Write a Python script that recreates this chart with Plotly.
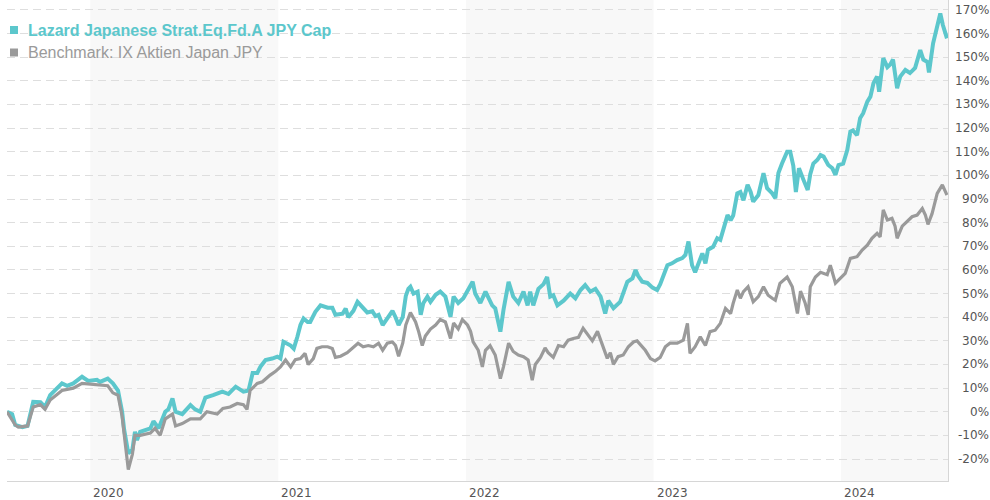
import pandas as pd
import plotly.graph_objects as go

# ---------------- data ----------------
fund_name = "Lazard Japanese Strat.Eq.Fd.A JPY Cap"
bench_name = "Benchmark: IX Aktien Japan JPY"

fund_dates = [
    "2019-07-23", "2019-08-02", "2019-08-08", "2019-08-14", "2019-08-22", "2019-09-01", "2019-09-02",
    "2019-09-12", "2019-09-26", "2019-10-05", "2019-10-15", "2019-11-07", "2019-11-17", "2019-11-29",
    "2019-12-16", "2019-12-28", "2020-01-14", "2020-01-20", "2020-02-04", "2020-02-14", "2020-02-24",
    "2020-03-03", "2020-03-07", "2020-03-15", "2020-03-23", "2020-03-28", "2020-04-01", "2020-04-07",
    "2020-04-27", "2020-05-03", "2020-05-13", "2020-05-26", "2020-06-01", "2020-06-09", "2020-06-15",
    "2020-06-28", "2020-07-14", "2020-07-23", "2020-08-02", "2020-08-12", "2020-08-27", "2020-09-14",
    "2020-09-26", "2020-10-10", "2020-10-25", "2020-11-04", "2020-11-12", "2020-11-21", "2020-11-27",
    "2020-12-07", "2020-12-20", "2020-12-30", "2021-01-05", "2021-01-11", "2021-01-25", "2021-01-31",
    "2021-02-07", "2021-02-13", "2021-02-19", "2021-02-27", "2021-03-04", "2021-03-14", "2021-03-24",
    "2021-04-07", "2021-04-16", "2021-04-22", "2021-05-06", "2021-05-12", "2021-05-17", "2021-05-27",
    "2021-06-04", "2021-06-14", "2021-06-23", "2021-07-03", "2021-07-09", "2021-07-15", "2021-07-23",
    "2021-08-01", "2021-08-11", "2021-08-17", "2021-08-23", "2021-08-31", "2021-09-06", "2021-09-11",
    "2021-09-15", "2021-09-21", "2021-09-29", "2021-10-05", "2021-10-10", "2021-10-18", "2021-10-24",
    "2021-11-03", "2021-11-12", "2021-11-22", "2021-12-02", "2021-12-08", "2021-12-17", "2021-12-27",
    "2022-01-06", "2022-01-14", "2022-01-19", "2022-01-29", "2022-02-08", "2022-02-14", "2022-02-21",
    "2022-02-27", "2022-03-09", "2022-03-15", "2022-03-25", "2022-04-03", "2022-04-13", "2022-04-23",
    "2022-05-01", "2022-05-06", "2022-05-12", "2022-05-22", "2022-06-01", "2022-06-08", "2022-06-14",
    "2022-06-20", "2022-06-28", "2022-07-10", "2022-07-23", "2022-08-02", "2022-08-12", "2022-08-21",
    "2022-08-31", "2022-09-10", "2022-09-20", "2022-09-29", "2022-10-05", "2022-10-15", "2022-10-28",
    "2022-11-11", "2022-11-21", "2022-11-27", "2022-12-02", "2022-12-10", "2022-12-20", "2022-12-30",
    "2023-01-08", "2023-01-14", "2023-01-20", "2023-01-28", "2023-02-06", "2023-02-16", "2023-02-26",
    "2023-03-04", "2023-03-10", "2023-03-17", "2023-03-23", "2023-03-29", "2023-04-06", "2023-04-12",
    "2023-04-17", "2023-04-27", "2023-05-05", "2023-05-11", "2023-05-17", "2023-05-25", "2023-05-31",
    "2023-06-05", "2023-06-13", "2023-06-19", "2023-06-25", "2023-07-03", "2023-07-09", "2023-07-14",
    "2023-07-24", "2023-08-03", "2023-08-10", "2023-08-20", "2023-08-26", "2023-09-01", "2023-09-08",
    "2023-09-18", "2023-09-24", "2023-09-30", "2023-10-05", "2023-10-11", "2023-10-20", "2023-10-28",
    "2023-11-02", "2023-11-08", "2023-11-16", "2023-11-22", "2023-11-28", "2023-12-07", "2023-12-15",
    "2023-12-21", "2023-12-27", "2024-01-05", "2024-01-13", "2024-01-19", "2024-01-24", "2024-02-01",
    "2024-02-07", "2024-02-13", "2024-02-21", "2024-02-27", "2024-03-04", "2024-03-11", "2024-03-15",
    "2024-03-23", "2024-03-31", "2024-04-06", "2024-04-11", "2024-04-19", "2024-04-25", "2024-05-05",
    "2024-05-14", "2024-05-24", "2024-06-03", "2024-06-09", "2024-06-17", "2024-06-20", "2024-06-28",
    "2024-07-06", "2024-07-12", "2024-07-17", "2024-07-25",
]
fund_values = [
    0, -1, -5.6, -6, -6.5, -6, -5,
    4.2, 4, 2, 7, 12, 11, 12,
    14.8, 13, 13.5, 12.6, 14, 12, 9,
    0, -7.7, -17.6, -16, -8.5, -12, -8.5,
    -7, -4, -7, 0, 1, 5.6, 0,
    -1, 2.8, 1, 0, 6, 7, 8.5,
    7.5, 10.6, 8.5, 9, 16.4, 16.4, 19,
    21.9, 22.5, 23.3, 22.5, 29.6, 28, 26.7,
    31.7, 36.7, 39.5, 38, 38, 42.3, 45,
    44, 44, 41, 41.5, 43.7, 40, 42.7,
    46.5, 44, 42, 42.5, 40.5, 41, 36.7,
    39.5, 42.7, 40, 36.7, 40, 49, 52,
    52.9, 50, 50.8, 41, 45.9, 48.7, 46.5,
    49.5, 50.8, 48.7, 40.2, 48.7, 46, 48,
    51.5, 55, 50, 46, 50.8, 48, 45,
    43.8, 33.9, 43, 55, 48.7, 46, 50.8,
    45, 50.8, 45, 52, 54, 57, 48.7,
    49.3, 45, 47, 50, 48, 51.5, 53.6,
    50.8, 52, 48.7, 41.6, 47, 43.8, 46.5,
    55, 56.4, 60, 57.5, 55, 54.5, 52.5,
    51.5, 54, 57, 62, 62.8, 64.2, 65,
    66.3, 72, 62, 59, 62.8, 67, 62.8,
    68.5, 69.8, 73.4, 72.7, 77.6, 83.2, 81,
    83, 92.4, 93, 89.5, 96, 93, 88.9,
    91.7, 100.9, 94.6, 92.4, 90.3, 101, 105,
    110, 110, 104, 93, 103, 98, 93.8,
    100.5, 105, 106.6, 108.6, 108, 104.4, 103,
    100.2, 104.4, 105, 110.7, 118.5, 119, 117,
    124.2, 126.3, 131.2, 133.3, 139, 141.8, 135.4,
    149.6, 145.8, 147, 149, 136.9, 141.8, 144.6,
    143.3, 145.5, 153, 149, 148, 143.5, 155.9,
    163.6, 168.5, 163.6, 158,
]

bench_dates = [
    "2019-07-23", "2019-08-08", "2019-08-14", "2019-09-01", "2019-09-12", "2019-09-26", "2019-10-05",
    "2019-10-15", "2019-11-07", "2019-11-29", "2019-12-16", "2020-01-14", "2020-02-04", "2020-02-14",
    "2020-02-24", "2020-03-03", "2020-03-07", "2020-03-15", "2020-03-23", "2020-03-28", "2020-04-07",
    "2020-04-27", "2020-05-06", "2020-05-16", "2020-05-26", "2020-06-09", "2020-06-15", "2020-06-28",
    "2020-07-14", "2020-08-02", "2020-08-15", "2020-09-04", "2020-09-15", "2020-09-29", "2020-10-13",
    "2020-10-25", "2020-11-01", "2020-11-07", "2020-11-21", "2020-12-01", "2020-12-16", "2020-12-26",
    "2021-01-05", "2021-01-15", "2021-01-25", "2021-02-03", "2021-02-13", "2021-02-22", "2021-02-28",
    "2021-03-10", "2021-03-17", "2021-03-27", "2021-04-07", "2021-04-16", "2021-04-22", "2021-05-02",
    "2021-05-15", "2021-05-27", "2021-06-05", "2021-06-15", "2021-06-25", "2021-07-05", "2021-07-15",
    "2021-07-23", "2021-08-01", "2021-08-11", "2021-08-17", "2021-08-23", "2021-08-31", "2021-09-06",
    "2021-09-15", "2021-09-25", "2021-10-01", "2021-10-08", "2021-10-14", "2021-10-24", "2021-11-03",
    "2021-11-12", "2021-11-22", "2021-12-02", "2021-12-08", "2021-12-17", "2021-12-25", "2022-01-04",
    "2022-01-10", "2022-01-15", "2022-01-25", "2022-02-02", "2022-02-08", "2022-02-17", "2022-02-27",
    "2022-03-09", "2022-03-15", "2022-03-25", "2022-04-03", "2022-04-13", "2022-04-23", "2022-05-02",
    "2022-05-10", "2022-05-16", "2022-05-26", "2022-06-04", "2022-06-10", "2022-06-20", "2022-06-30",
    "2022-07-10", "2022-07-19", "2022-07-29", "2022-08-08", "2022-08-17", "2022-08-25", "2022-09-04",
    "2022-09-14", "2022-09-23", "2022-10-03", "2022-10-09", "2022-10-15", "2022-10-24", "2022-11-03",
    "2022-11-13", "2022-11-23", "2022-11-30", "2022-12-10", "2022-12-16", "2022-12-26", "2023-01-04",
    "2023-01-14", "2023-01-24", "2023-02-02", "2023-02-16", "2023-02-28", "2023-03-08", "2023-03-13",
    "2023-03-23", "2023-04-02", "2023-04-12", "2023-04-21", "2023-05-01", "2023-05-11", "2023-05-21",
    "2023-05-31", "2023-06-05", "2023-06-13", "2023-06-19", "2023-06-25", "2023-07-04", "2023-07-14",
    "2023-07-24", "2023-08-03", "2023-08-12", "2023-08-20", "2023-08-26", "2023-09-04", "2023-09-18",
    "2023-09-28", "2023-10-08", "2023-10-14", "2023-10-23", "2023-10-29", "2023-11-02", "2023-11-12",
    "2023-11-22", "2023-12-05", "2023-12-11", "2023-12-21", "2023-12-30", "2024-01-09", "2024-01-19",
    "2024-02-01", "2024-02-11", "2024-02-21", "2024-03-01", "2024-03-11", "2024-03-17", "2024-03-23",
    "2024-03-31", "2024-04-09", "2024-04-15", "2024-04-19", "2024-04-29", "2024-05-09", "2024-05-18",
    "2024-05-28", "2024-06-07", "2024-06-13", "2024-06-18", "2024-06-26", "2024-07-06", "2024-07-16",
    "2024-07-25",
]
bench_values = [
    0, -5.6, -6.5, -6, 2, 3, 1,
    5, 9, 10, 12, 11.5, 11, 8,
    7, -2, -10, -24.5, -18, -10, -10,
    -9, -7, -10, -3, -1, -6, -5,
    -3, -3, 0, -1, 1.4, 2, 3.5,
    3, 1, 9, 12, 12.7, 15.5, 17,
    19, 21.9, 19, 22, 22.5, 24.7, 20,
    22.5, 26.8, 27.5, 27.5, 26.8, 23, 23.5,
    25, 27.5, 29, 27.5, 28, 27.5, 29,
    26, 29, 29.5, 28, 23.5, 29, 36.7,
    42, 38, 33.9, 28, 32, 35, 36.7,
    39, 38, 31, 37.5, 35, 39, 36.7,
    34, 29.6, 26, 19, 26, 28, 24,
    14, 19, 29, 25.5, 24, 23.3, 21.9,
    13.4, 20, 23, 27, 25, 23, 28,
    27.5, 30.3, 31, 31.5, 35.3, 33, 30,
    34, 29, 22.6, 25, 20, 23.3, 24,
    27.5, 29.5, 30, 27.5, 26, 22.5, 21.5,
    23, 27.5, 29, 29, 30.3, 37.4, 24.7,
    27.5, 31.7, 28, 33.9, 34.5, 37.4, 43.7,
    41.5, 45.9, 51.5, 48, 50.8, 52.9, 46.5,
    48.7, 52.9, 49.3, 48, 47.2, 54.3, 57,
    52.9, 41.6, 51, 46, 41, 52.9, 57,
    59, 58, 62, 54.4, 56.5, 58.5, 64.9,
    65.6, 68.4, 70.5, 73.4, 75.5, 74, 85.4,
    81.1, 81.8, 78.5, 73.4, 78.5, 80.4, 82.5,
    83.2, 86, 83.2, 79.3, 83.8, 92.4, 96,
    91.7,
]

shaded_years = [2020, 2022, 2024]
year_labels = ["2020", "2021", "2022", "2023", "2024"]
y_ticks = list(range(-20, 171, 10))
x_range = ["2019-07-23", "2024-07-27"]
y_range = [-29.3, 174.2]

# ---------------- style ----------------
TEAL = "#5cc7cc"
GRAY = "#9a9a9a"
TICK_FONT = dict(family="Verdana, DejaVu Sans, sans-serif", size=12, color="#555555")
LEG_FONT = "Arial, Liberation Sans, sans-serif"

fig = go.Figure()
fig.add_trace(go.Scatter(x=pd.to_datetime(fund_dates), y=fund_values, mode="lines",
                         line=dict(color=TEAL, width=4), name=fund_name, showlegend=False))
fig.add_trace(go.Scatter(x=pd.to_datetime(bench_dates), y=bench_values, mode="lines",
                         line=dict(color=GRAY, width=3.2), name=bench_name, showlegend=False))

shapes = []
for yr in shaded_years:
    x1 = f"{yr + 1}-01-01"
    if x1 > x_range[1]:
        x1 = x_range[1]
    shapes.append(dict(type="rect", xref="x", yref="paper", x0=f"{yr}-01-01", x1=x1,
                       y0=0, y1=1, fillcolor="#f8f8f8", line=dict(width=0), layer="below"))

# legend squares
for i, col in enumerate([TEAL, GRAY]):
    cy = -30 - 22.5 * i
    shapes.append(dict(type="rect", xref="paper", yref="paper", xsizemode="pixel", ysizemode="pixel",
                       xanchor=0, yanchor=1, x0=3, x1=11, y0=cy - 4, y1=cy + 4,
                       fillcolor=col, line=dict(width=0), layer="above"))

annotations = []
for i, (txt, col, bold) in enumerate([(fund_name, TEAL, True), (bench_name, GRAY, False)]):
    annotations.append(dict(xref="paper", yref="paper", x=0, y=1, xanchor="left", yanchor="middle",
                            xshift=19, yshift=-30 - 22.5 * i, showarrow=False,
                            text=f"<b>{txt}</b>" if bold else txt,
                            font=dict(family=LEG_FONT, size=16, color=col)))
for v in y_ticks:
    annotations.append(dict(xref="paper", yref="y", x=1, y=v, xanchor="right", yanchor="middle",
                            xshift=43, showarrow=False, text=f"{v}%", font=TICK_FONT))
for lab in year_labels:
    annotations.append(dict(xref="x", yref="paper", x=f"{lab}-01-01", y=0, xanchor="left", yanchor="top",
                            xshift=1, yshift=-3, showarrow=False, text=lab, font=TICK_FONT))

fig.update_layout(
    width=990, height=500,
    margin=dict(l=7, r=42, t=0, b=19),
    plot_bgcolor="white", paper_bgcolor="white",
    shapes=shapes, annotations=annotations,
    xaxis=dict(range=x_range, type="date", showgrid=False, zeroline=False, showticklabels=False,
               showline=True, linecolor="#d6d6d6", linewidth=1, ticks=""),
    yaxis=dict(range=y_range, side="right", tickvals=y_ticks, showticklabels=False,
               showgrid=True, gridcolor="#dedede", gridwidth=1, griddash="8px,5px",
               zeroline=False, showline=True, linecolor="#d6d6d6", linewidth=1, ticks=""),
    showlegend=False,
)

fig.write_html("out.html")
